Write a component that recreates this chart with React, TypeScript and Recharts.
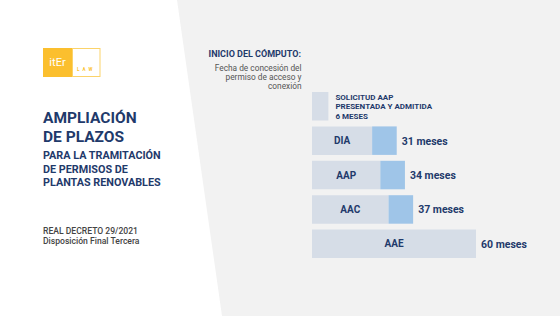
import { BarChart, Bar, XAxis, YAxis, LabelList } from 'recharts';

// months from the start date (grant of the access and connection permit)
const categories = ['SOLICITUD', 'DIA', 'AAP', 'AAC', 'AAE'];
const baseMonths = [6, 22, 25, 28, 60];
const extensionMonths = [0, 9, 9, 9, 0];
const innerLabels = ['', 'DIA', 'AAP', 'AAC', 'AAE'];
const totalLabels = ['', '31 meses', '34 meses', '37 meses', '60 meses'];
const solicitudNote = ['SOLICITUD AAP', 'PRESENTADA Y ADMITIDA', '6 MESES'];

const NAVY = '#1f3a6b';
const FONT = 'Roboto, "Noto Sans", sans-serif';

const data = categories.map((c, i) => ({
  name: c,
  base: baseMonths[i],
  ext: extensionMonths[i],
}));

const TrailingLabel = ({ i, x, cy }: { i: number; x: number; cy: number }) => {
  if (i === 0) {
    return (
      <g>
        {solicitudNote.map((line, k) => (
          <text key={k} x={x + 7} y={cy + (k - 1) * 9.6 + 3} fontSize={8} fontWeight={700} fill={NAVY} fontFamily={FONT}>
            {line}
          </text>
        ))}
      </g>
    );
  }
  return (
    <text x={x + 5} y={cy + 4} fontSize={10.5} fontWeight={700} fill={NAVY} fontFamily={FONT}>
      {totalLabels[i]}
    </text>
  );
};

const BaseLabel = (props: any) => {
  const { x, y, width, height, value } = props;
  const i = categories.indexOf(value);
  const cy = y + height / 2;
  return (
    <g>
      {innerLabels[i] && (
        <text x={x + width / 2} y={cy + 3.6} textAnchor="middle" fontSize={10} fontWeight={700} fill={NAVY} fontFamily={FONT}>
          {innerLabels[i]}
        </text>
      )}
      {extensionMonths[i] === 0 && <TrailingLabel i={i} x={x + width} cy={cy} />}
    </g>
  );
};

const ExtLabel = (props: any) => {
  const { x, y, width, height, value } = props;
  const i = categories.indexOf(value);
  if (extensionMonths[i] === 0) return null;
  return <TrailingLabel i={i} x={x + width} cy={y + height / 2} />;
};

export default function App() {
  return (
    <div style={{ position: 'absolute', left: 0, top: 0, width: 560, height: 316, background: '#f2f2f2', overflow: 'hidden' }}>
      <svg width={560} height={316} style={{ position: 'absolute', left: 0, top: 0 }} fontFamily={FONT}>
        <polygon points="0,0 177,0 222,316 0,316" fill="#ffffff" />
        {/* logo */}
        <rect x={43} y={48} width={29} height={29} fill="#fbbf2e" />
        <rect x={72.5} y={48.5} width={27.5} height={28} fill="#ffffff" stroke="#fbd36a" strokeWidth={1} />
        <text x={57.5} y={66} textAnchor="middle" fontSize={11} fontWeight={400} fill="#ffffff">itEr</text>
        <text x={77} y={71} fontSize={4.5} fontWeight={700} fill="#fbbf2e" letterSpacing={3}>LAW</text>

        <text x={43} y={123} fontSize={15.5} fontWeight={700} fill={NAVY}>AMPLIACIÓN</text>
        <text x={43} y={141.7} fontSize={15.5} fontWeight={700} fill={NAVY}>DE PLAZOS</text>
        <text x={43} y={159.3} fontSize={10.8} fontWeight={700} fill={NAVY}>PARA LA TRAMITACIÓN</text>
        <text x={43} y={172.6} fontSize={10.8} fontWeight={700} fill={NAVY}>DE PERMISOS DE</text>
        <text x={43} y={186} fontSize={10.8} fontWeight={700} fill={NAVY}>PLANTAS RENOVABLES</text>
        <text x={43} y={234.3} fontSize={8.6} fontWeight={500} fill="#444444">REAL DECRETO 29/2021</text>
        <text x={43} y={244.3} fontSize={8.6} fontWeight={500} fill="#444444">Disposición Final Tercera</text>

        <text x={301} y={57.3} textAnchor="end" fontSize={9} fontWeight={700} fill={NAVY}>INICIO DEL CÓMPUTO:</text>
        <text x={301.5} y={70.5} textAnchor="end" fontSize={8.3} fill="#555555">Fecha de concesión del</text>
        <text x={301.5} y={79.8} textAnchor="end" fontSize={8.3} fill="#555555">permiso de acceso y</text>
        <text x={301.5} y={89} textAnchor="end" fontSize={8.3} fill="#555555">conexión</text>
      </svg>

      <div style={{ position: 'absolute', left: 0, top: 0 }}>
        <BarChart
          width={560}
          height={316}
          data={data}
          layout="vertical"
          margin={{ top: 42, right: 84, bottom: 43, left: 312 }}
        >
          <XAxis type="number" domain={[0, 60]} hide />
          <YAxis
            type="category"
            dataKey="name"
            width={0}
            tick={false}
            tickLine={false}
            axisLine={{ stroke: '#c5d2e6', strokeWidth: 2 }}
            padding={{ top: 47, bottom: 12 }}
          />
          <Bar dataKey="base" stackId="a" fill="#d6dde7" barSize={28.5} isAnimationActive={false}>
            <LabelList dataKey="name" content={BaseLabel} />
          </Bar>
          <Bar dataKey="ext" stackId="a" fill="#9fc5e8" barSize={28.5} isAnimationActive={false}>
            <LabelList dataKey="name" content={ExtLabel} />
          </Bar>
        </BarChart>
      </div>
    </div>
  );
}
